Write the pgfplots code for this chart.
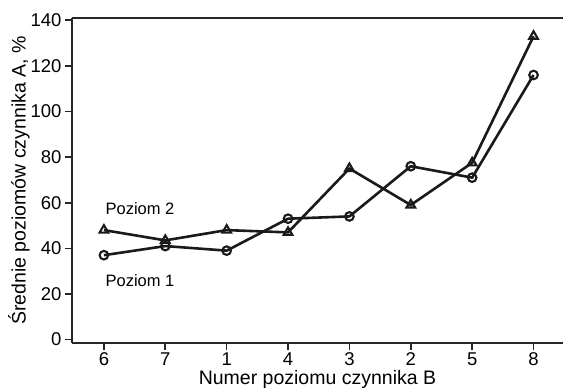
\documentclass[border=0pt]{standalone}
\usepackage{pgfplots}
\pgfplotsset{compat=1.18}
\usepackage{fontspec}
\setmainfont{Liberation Sans}
\definecolor{ink}{HTML}{1A1A1A}
\definecolor{axc}{HTML}{262626}
\begin{document}
\begin{tikzpicture}
\begin{axis}[
  name=ax,
  scale only axis,
  width=491pt, height=325pt,
  xmin=-0.52, xmax=7.48,
  ymin=-1.5, ymax=141,
  axis x line*=bottom,
  axis y line*=left,
  axis line style={axc, line width=1.6pt, -},
  xtick={0,1,2,3,4,5,6,7},
  xticklabels={6,7,1,4,3,2,5,8},
  ytick={0,20,40,60,80,100,120,140},
  tick align=outside,
  major tick length=7pt,
  tick style={axc, line width=1.6pt},
  /pgf/number format/assume math mode=true,
  tick label style={font=\fontsize{18.5}{20}\selectfont, text=black},
  xticklabel style={yshift=1pt},
  xlabel={Numer poziomu czynnika B},
  ylabel={Średnie poziomów czynnika A, \%},
  label style={font=\fontsize{19.5}{22}\selectfont},
  xlabel style={yshift=2pt},
  ylabel style={yshift=-6pt},
  clip=false,
]
\draw[axc, line width=1.6pt] (rel axis cs:0,1) -- (rel axis cs:1,1);
\addplot[ink, line width=2.6pt, mark=triangle, mark size=5pt,
  mark options={fill=white, line width=2.1pt, solid}]
  coordinates {(0,48) (1,43.5) (2,48) (3,47) (4,75) (5,59) (6,77.5) (7,133)};
\addplot[ink, line width=2.6pt, mark=o, mark size=4.3pt,
  mark options={fill=white, line width=2.1pt, solid}]
  coordinates {(0,37) (1,41) (2,39) (3,53) (4,54) (5,76) (6,71) (7,116)};
\node[anchor=west, font=\fontsize{16.5}{18}\selectfont] at (axis cs:-0.03,57.3) {Poziom 2};
\node[anchor=west, font=\fontsize{16.5}{18}\selectfont] at (axis cs:-0.03,25.7) {Poziom 1};
\end{axis}
\pgfresetboundingbox
\path ([xshift=-72pt,yshift=-47pt]ax.south west) rectangle ([yshift=18pt]ax.north east);
\end{tikzpicture}
\end{document}
